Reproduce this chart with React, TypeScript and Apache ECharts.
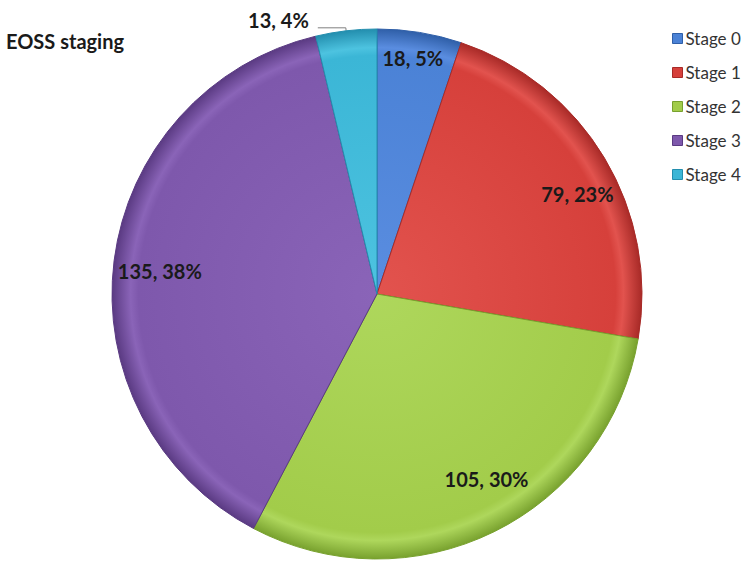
import React, { useEffect, useRef } from "react";
import * as echarts from "echarts";

const categories = ["Stage 0", "Stage 1", "Stage 2", "Stage 3", "Stage 4"];
const counts = [18, 79, 105, 135, 13];
const percents = [5, 23, 30, 38, 4];
const colors = ["#4B82D6", "#D6403B", "#A2CC4A", "#7E58AC", "#3BB6D6"];
const darkColors = ["#2F5FA8", "#A82A27", "#78A12E", "#5A3A82", "#238EAE"];
const lightColors = ["#5A8DE0", "#E2534E", "#AED75C", "#8A64B8", "#4DC3E0"];

const CX = 377;
const CY = 294;
const R = 265;

export default function App() {
  const ref = useRef<HTMLDivElement>(null);
  useEffect(() => {
    document.body.style.margin = "0";
    const chart = echarts.init(ref.current!, undefined, { renderer: "svg" });
    const fill = (i: number) => ({
      type: "radial",
      x: CX,
      y: CY,
      r: R,
      global: true,
      colorStops: [
        { offset: 0, color: lightColors[i] },
        { offset: 0.9, color: colors[i] },
        { offset: 0.93, color: lightColors[i] },
        { offset: 1, color: darkColors[i] },
      ],
    });
    const labelOffsets = [
      [0, -16],
      [9, 14],
      [11, -15],
      [4, 5],
      [0, 0],
    ];
    const mainData = categories.map((c, i) => ({
      name: c,
      value: counts[i],
      itemStyle: { color: fill(i), borderColor: darkColors[i], borderWidth: 1 },
      label:
        i === 4
          ? {
              show: true,
              position: "outside",
              formatter: `${counts[i]}, ${percents[i]}%`,
            }
          : { show: false },
      labelLine: i === 4 ? { show: true } : { show: false },
    }));
    const labelData = categories.map((c, i) => ({
      name: c,
      value: counts[i],
      label:
        i === 4
          ? { show: false }
          : {
              show: true,
              formatter: `${counts[i]}, ${percents[i]}%`,
              offset: labelOffsets[i],
            },
    }));
    chart.setOption({
      animation: false,
      backgroundColor: "#ffffff",
      title: {
        text: "EOSS staging",
        left: 1,
        top: 26,
        textStyle: { fontFamily: "Lato", fontSize: 20, fontWeight: "bold", color: "#1a1a1a" },
      },
      legend: {
        orient: "vertical",
        left: 667,
        top: 25,
        itemWidth: 10,
        itemHeight: 10,
        itemGap: 17,
        icon: "rect",
        data: categories.map((c, i) => ({ name: c, itemStyle: { color: colors[i], borderColor: darkColors[i], borderWidth: 1 } })),
        textStyle: { fontFamily: "Lato", fontSize: 17, color: "#333333", padding: [0, 0, 0, -2] },
      },
      series: [
        {
          type: "pie",
          center: [CX, CY],
          radius: [0, R],
          startAngle: 90,
          clockwise: true,
          data: mainData,
          label: {
            fontFamily: "Lato",
            fontSize: 20,
            fontWeight: "bold",
            color: "#1a1a1a",
          },
          labelLine: { length: 3, length2: 28, lineStyle: { color: "#7f7f7f", width: 1 } },
          labelLayout: (p: any) => (p.dataIndex === 4 ? { dy: -8, dx: -4 } : {}),
          emphasis: { disabled: true },
        },
        {
          type: "pie",
          center: [CX, CY],
          radius: [R * 0.66, R],
          startAngle: 90,
          clockwise: true,
          data: labelData,
          silent: true,
          itemStyle: { color: "rgba(0,0,0,0)" },
          label: {
            position: "inside",
            fontFamily: "Lato",
            fontSize: 20,
            fontWeight: "bold",
            color: "#1a1a1a",
          },
          labelLine: { show: false },
          emphasis: { disabled: true },
        },
      ],
    });
    return () => chart.dispose();
  }, []);
  return <div ref={ref} style={{ width: 750, height: 583 }} />;
}
